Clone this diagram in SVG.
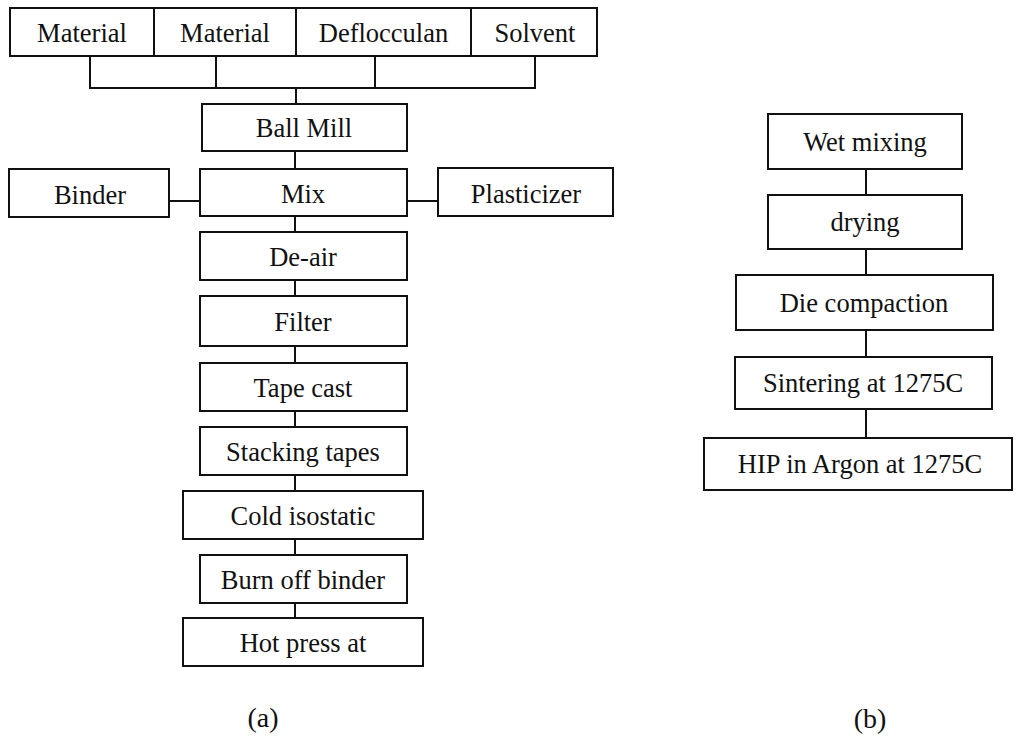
<svg xmlns="http://www.w3.org/2000/svg" width="1016" height="737" viewBox="0 0 1016 737">
<style>
rect{fill:#fff;stroke:#111;stroke-width:2}
text{font-family:"Liberation Serif","Times New Roman",serif;font-size:26.5px;fill:#111;text-anchor:middle}
.lbl{font-size:28px}
.c{stroke:#111;stroke-width:2;fill:none}
</style>
<rect x="0" y="0" width="1016" height="737" style="stroke:none"/>
<g id="connectors">
<path class="c" d="M90 56V88H535V56M216 56V88M375 56V88M296 88V104"/>
<path class="c" d="M295 151V169M295 216V232M295 280V296M295 346V363M295 411V427M295 475V491M295 539V555M295 603V618"/>
<path class="c" d="M169 201H200M407 201H438"/>
<path class="c" d="M866 169V195M866 249V275M866 330V357M866 409V438"/>
</g>
<g id="n_material1"><rect x="10" y="8" width="144" height="48"/><text x="82" y="42">Material</text></g>
<g id="n_material2"><rect x="154" y="8" width="142" height="48"/><text x="225" y="42">Material</text></g>
<g id="n_defloc"><rect x="296" y="8" width="175" height="48"/><text x="383.5" y="42">Deflocculan</text></g>
<g id="n_solvent"><rect x="471" y="8" width="126" height="48"/><text x="535" y="42">Solvent</text></g>
<g id="n_ballmill"><rect x="202" y="104" width="205" height="47"/><text x="304" y="137">Ball Mill</text></g>
<g id="n_binder"><rect x="9" y="169" width="160" height="48"/><text x="90" y="204">Binder</text></g>
<g id="n_mix"><rect x="200" y="169" width="207" height="47"/><text x="303" y="203">Mix</text></g>
<g id="n_plasticizer"><rect x="438" y="168" width="175" height="48"/><text x="526" y="203">Plasticizer</text></g>
<g id="n_deair"><rect x="200" y="232" width="207" height="48"/><text x="303" y="266">De-air</text></g>
<g id="n_filter"><rect x="200" y="296" width="207" height="50"/><text x="303" y="331">Filter</text></g>
<g id="n_tapecast"><rect x="200" y="363" width="207" height="48"/><text x="303" y="397">Tape cast</text></g>
<g id="n_stacking"><rect x="200" y="427" width="207" height="48"/><text x="303" y="461">Stacking tapes</text></g>
<g id="n_cold"><rect x="183" y="491" width="240" height="48"/><text x="303" y="525">Cold isostatic</text></g>
<g id="n_burn"><rect x="200" y="555" width="207" height="48"/><text x="303" y="589">Burn off binder</text></g>
<g id="n_hotpress"><rect x="183" y="618" width="240" height="48"/><text x="303" y="652">Hot press at</text></g>
<g id="n_wet"><rect x="768" y="114" width="194" height="55"/><text x="865" y="151">Wet mixing</text></g>
<g id="n_drying"><rect x="768" y="195" width="194" height="54"/><text x="865" y="231">drying</text></g>
<g id="n_die"><rect x="736" y="275" width="257" height="55"/><text x="864" y="312">Die compaction</text></g>
<g id="n_sinter"><rect x="735" y="357" width="257" height="52"/><text x="863" y="392">Sintering at 1275C</text></g>
<g id="n_hip"><rect x="704" y="438" width="308" height="52"/><text x="860" y="473">HIP in Argon at 1275C</text></g>
<text class="lbl" x="263" y="727">(a)</text>
<text class="lbl" x="870" y="728">(b)</text>
</svg>
